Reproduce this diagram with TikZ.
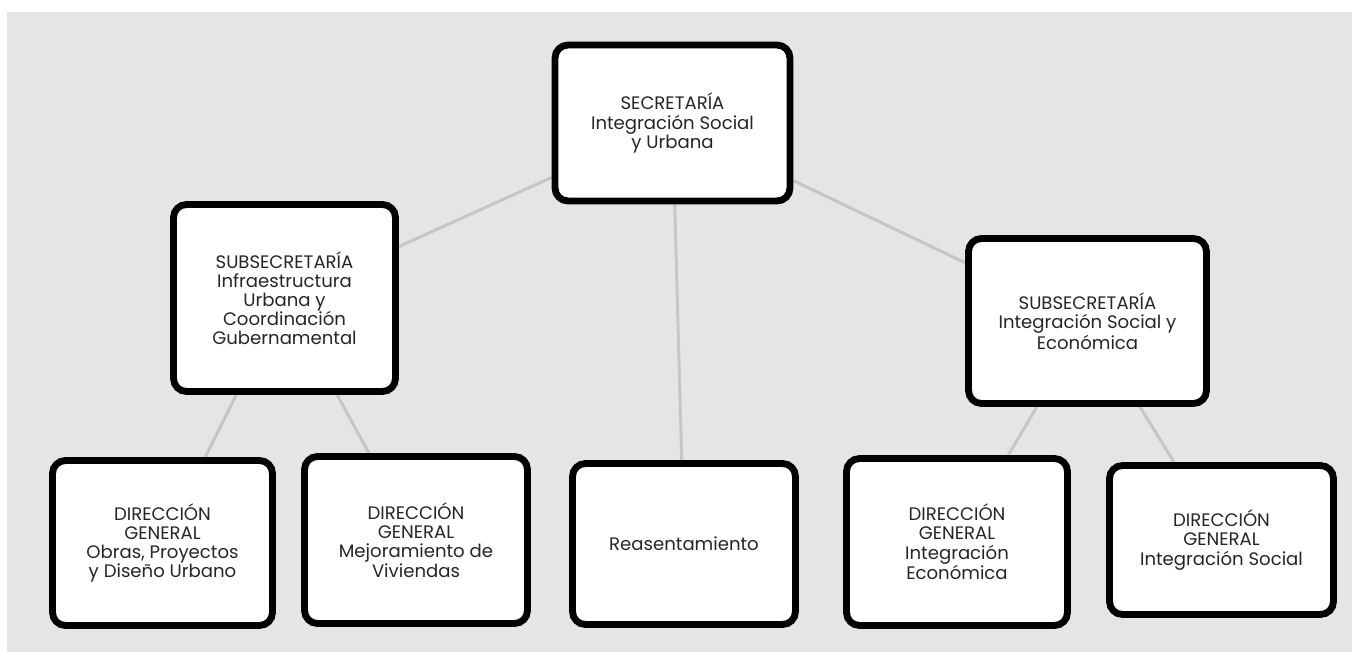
\documentclass[tikz,border=0pt]{standalone}
\usepackage{fontspec}
\setmainfont{Poppins}
\usepackage{tikz}
\usetikzlibrary{backgrounds}
\definecolor{paperCol}{HTML}{E5E5E5}
\definecolor{linkCol}{HTML}{C6C6C6}
\definecolor{textCol}{HTML}{262626}

\begin{document}
\begin{tikzpicture}[x=0.02cm,y=-0.02cm,
  box/.style={draw=black,fill=white,line width=3.9pt,rounded corners=0.26cm,
    align=center,text=textCol,inner sep=2pt,font=\fontsize{10.3}{10.9}\selectfont},
  link/.style={draw=linkCol,line width=1.7pt},
]
\useasboundingbox (0,0) rectangle (1352,652);

\node[box,minimum width=4.70cm,minimum height=3.12cm] (sec) at (672.5,123) {SECRETARÍA\\Integración Social\\y Urbana};
\node[box,minimum width=4.44cm,minimum height=3.74cm] (subInfra) at (284.5,298) {SUBSECRETARÍA\\Infraestructura\\Urbana y\\Coordinación\\Gubernamental};
\node[box,minimum width=4.76cm,minimum height=3.30cm] (subInteg) at (1087.5,321) {SUBSECRETARÍA\\Integración Social y\\Económica};

\node[box,minimum width=4.40cm,minimum height=3.30cm] (dgObras) at (162.5,543) {DIRECCIÓN\\GENERAL\\Obras, Proyectos\\y Diseño Urbano};
\node[box,minimum width=4.46cm,minimum height=3.34cm] (dgVivienda) at (416,540) {DIRECCIÓN\\GENERAL\\Mejoramiento de\\Viviendas};
\node[box,minimum width=4.46cm,minimum height=3.22cm] (reasent) at (684,544) {Reasentamiento};
\node[box,minimum width=4.42cm,minimum height=3.34cm] (dgEcon) at (957,542) {DIRECCIÓN\\GENERAL\\Integración\\Económica};
\node[box,minimum width=4.48cm,minimum height=2.98cm] (dgSocial) at (1221.5,540) {DIRECCIÓN\\GENERAL\\Integración Social};

\begin{scope}[on background layer]
  \fill[paperCol] (7,12) rectangle (1352,652);
  \draw[link] (sec) -- (subInfra);
  \draw[link] (sec) -- (subInteg);
  \draw[link] (sec) -- (reasent);
  \draw[link] (subInfra) -- (dgObras);
  \draw[link] (subInfra) -- (dgVivienda);
  \draw[link] (subInteg) -- (dgEcon);
  \draw[link] (subInteg) -- (dgSocial);
\end{scope}

\end{tikzpicture}
\end{document}
